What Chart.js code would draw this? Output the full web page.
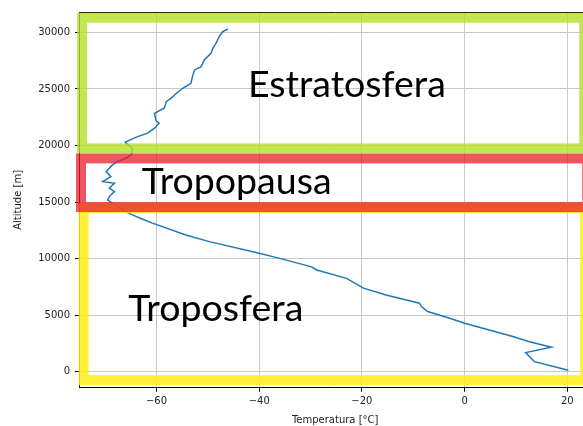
<!DOCTYPE html>
<html>
<head>
<meta charset="utf-8">
<script src="https://cdn.jsdelivr.net/npm/chart.js@4"></script>
<style>
  html, body { margin:0; padding:0; background:#fff; overflow:hidden; }
  #wrap { width:600px; height:426px; }
</style>
</head>
<body>
<div id="wrap"><canvas id="chart-perfil" width="600" height="426"></canvas></div>
<script>
// Perfil vertical de temperatura - sondeo

const altitudes = [
  150, 900, 1700, 2180, 2700, 3120, 4300, 4740, 5330, 5770,
  6070, 6800, 7400, 8260, 9000, 9280, 10030, 10490, 11510,
  12100, 13140, 13490, 13870, 14160, 14700, 15190, 15490, 15930, 16230,
  16670, 16810, 17250, 17690, 18290, 18580, 18880, 19170, 19760, 20300,
  20790, 21090, 21530, 21970, 22200, 22850, 23300, 23880, 24270, 24470,
  25060, 25500, 26090, 26680, 26970, 27560, 28150, 28600, 29040, 29620,
  30060, 30300
];
const temperatures = [
  20.2, 13.6, 11.9, 16.9, 12.3, 9.4, 0.0, -2.9, -7.2, -8.4,
  -8.8, -15.3, -19.7, -23.0, -28.8, -29.8, -36.0, -40.0, -49.7,
  -54.3, -60.8, -62.7, -64.7, -66.0, -68.0, -69.5, -69.2, -68.2, -69.2,
  -68.2, -70.5, -68.9, -69.8, -68.6, -67.6, -66.0, -64.9, -64.7, -66.1,
  -63.7, -61.7, -60.4, -59.5, -60.1, -60.4, -58.5, -58.1, -56.9, -56.5,
  -54.9, -53.3, -53.0, -52.6, -51.3, -50.7, -49.4, -49.0, -48.4, -47.8,
  -47.1, -46.1
];

const xTicks = [-60, -40, -20, 0, 20];
const yTicks = [0, 5000, 10000, 15000, 20000, 25000, 30000];
const xRange = [-75.1, 24.7];
const yRange = [-1400, 31800];

// capas: recuadro [tMin, tMax, altMin, altMax] y posicion del texto [t, alt]
const layerNames  = ['Troposfera', 'Tropopausa', 'Estratosfera'];
const layerColors = ['rgba(255,238,20,0.85)', 'rgba(235,30,45,0.75)', 'rgba(180,225,40,0.8)'];
const layerBoxes  = [
  [-74.2, 23.5, -734, 14470],
  [-74.7, 23.9, 14560, 18860],
  [-74.5, 23.3, 19750, 31290]
];
const layerLabelPos = [[-65.5, 4510], [-62.9, 15710], [-42.2, 24280]];

const tickFont = { family: 'DejaVu Sans', size: 10 };
const fmtTick = v => v < 0 ? '\u2212' + Math.abs(v) : String(v);

// marco superior/derecho del eje
const framePlugin = {
  id: 'frame',
  beforeDatasetsDraw(chart) {
    const { ctx, chartArea: a } = chart;
    ctx.save();
    ctx.strokeStyle = '#000';
    ctx.lineWidth = 1;
    ctx.beginPath();
    ctx.moveTo(a.left, a.top + 0.5);
    ctx.lineTo(a.right, a.top + 0.5);
    ctx.lineTo(a.right, a.bottom);
    ctx.stroke();
    ctx.restore();
  }
};

// recuadros y nombres de las capas
const layersPlugin = {
  id: 'layers',
  afterDatasetsDraw(chart) {
    const { ctx, scales: { x, y } } = chart;
    ctx.save();
    ctx.lineWidth = 10;
    layerBoxes.forEach((b, i) => {
      const x0 = x.getPixelForValue(b[0]), x1 = x.getPixelForValue(b[1]);
      const y0 = y.getPixelForValue(b[3]), y1 = y.getPixelForValue(b[2]);
      ctx.strokeStyle = layerColors[i];
      ctx.strokeRect(x0, y0, x1 - x0, y1 - y0);
    });
    ctx.fillStyle = '#000';
    ctx.font = '37.5px Lato';
    ctx.textBaseline = 'alphabetic';
    ctx.textAlign = 'left';
    layerNames.forEach((name, i) => {
      const p = layerLabelPos[i];
      ctx.fillText(name, x.getPixelForValue(p[0]), y.getPixelForValue(p[1]));
    });
    ctx.restore();
  }
};

const points = altitudes.map((a, i) => ({ x: temperatures[i], y: a }));

new Chart(document.getElementById('chart-perfil'), {
  type: 'scatter',
  data: {
    datasets: [{
      data: points,
      showLine: true,
      borderColor: '#1f77b4',
      borderWidth: 1.5,
      pointRadius: 0,
      tension: 0
    }]
  },
  options: {
    responsive: false,
    animation: false,
    layout: { padding: { top: 12, right: 8.6, left: 0, bottom: 0 } },
    plugins: { legend: { display: false }, tooltip: { enabled: false } },
    scales: {
      x: {
        type: 'linear',
        min: xRange[0], max: xRange[1],
        afterBuildTicks: s => { s.ticks = xTicks.map(v => ({ value: v })); },
        afterFit: s => { s.height = 38.3; },
        grid: { color: '#c8c8c8', tickColor: '#000', tickLength: 4, lineWidth: 1 },
        border: { color: '#000', width: 1 },
        ticks: { font: tickFont, color: '#222', padding: 4, maxRotation: 0, callback: fmtTick },
        title: { display: true, text: 'Temperatura [°C]', font: tickFont, color: '#222', padding: { top: 0, bottom: 0 } }
      },
      y: {
        type: 'linear',
        min: yRange[0], max: yRange[1],
        afterBuildTicks: s => { s.ticks = yTicks.map(v => ({ value: v })); },
        afterFit: s => { s.width = 79; },
        grid: { color: '#c8c8c8', tickColor: '#000', tickLength: 4, lineWidth: 1 },
        border: { color: '#000', width: 1 },
        ticks: { font: tickFont, color: '#222', padding: 5, callback: v => String(v) },
        title: { display: true, text: 'Altitude [m]', font: tickFont, color: '#222', padding: { top: 12, bottom: 0 } }
      }
    }
  },
  plugins: [framePlugin, layersPlugin]
});
</script>
</body>
</html>
